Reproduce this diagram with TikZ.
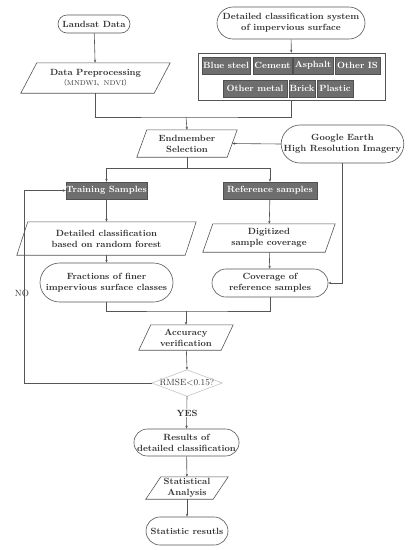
\documentclass[tikz,border=0pt]{standalone}
\usepackage{fontspec}
\newfontfamily\cjk{Noto Sans CJK SC}
\usetikzlibrary{shapes.geometric,shapes.misc,arrows.meta}
\definecolor{txt}{HTML}{333333}
\definecolor{ln}{HTML}{555555}
\definecolor{tile}{HTML}{6E6E6E}
\definecolor{tiled}{HTML}{505050}
\definecolor{dia}{HTML}{C4C4C4}
\tikzset{
  base/.style={font=\fontsize{9}{11}\selectfont\bfseries, text=txt, align=center, inner sep=0pt},
  pill/.style={base, draw=ln, line width=0.6pt, rounded rectangle},
  paranode/.style={base},
  box/.style={draw=ln, line width=0.6pt},
  tilebox/.style={base, fill=tile, draw=tiled, text=white, line width=0.4pt, minimum height=17pt},
  conn/.style={draw=ln, line width=0.6pt},
  arr/.style={conn, -{Stealth[length=3pt,width=2.4pt]}},
}
\newcommand\parabox[2]{\draw[box] ([xshift=#2/2]#1.north west) -- ([xshift=#2/2]#1.north east) -- ([xshift=-#2/2]#1.south east) -- ([xshift=-#2/2]#1.south west) -- cycle;}
\begin{document}
\begin{tikzpicture}[x=1pt,y=-1pt]
\useasboundingbox[fill=white] (0,0) rectangle (409,550);

% top row
\node[pill, minimum width=72pt, minimum height=18pt] (land) at (94,24) {Landsat Data};
\node[pill, minimum width=148pt, minimum height=32pt] (dcs) at (291,23) {Detailed classification system\\of impervious surface};

\node[paranode, minimum width=133pt, minimum height=30pt] (prep) at (95.5,78) {Data Preprocessing\\[-1pt]{\fontsize{7}{8}\selectfont\mdseries {\cjk （}MNDWI{\cjk 、}NDVI{\cjk ）}}};
\parabox{prep}{16}

\node[box, minimum width=187pt, minimum height=47pt, inner sep=0pt] (cbox) at (291.5,76.5) {};
\node[tilebox, minimum width=48pt] (t1) at (226,65.5) {Blue steel};
\node[tilebox, minimum width=39pt] (t2) at (272.5,65.5) {Cement};
\node[tilebox, minimum width=40pt] (t3) at (313,65.5) {Asphalt};
\node[tilebox, minimum width=45pt] (t4) at (357.5,65.5) {Other IS};
\node[tilebox, minimum width=64pt] (t5) at (255,88.5) {Other metal};
\node[tilebox, minimum width=26pt] (t6) at (302,88.5) {Brick};
\node[tilebox, minimum width=36pt] (t7) at (335,88.5) {Plastic};

\draw[arr] (land) -- (prep);
\draw[arr] (dcs) -- (cbox);

\coordinate (j1) at (186,117);
\draw[conn] (prep.south) |- (j1) -| (cbox.south);

% endmember
\node[paranode, minimum width=90pt, minimum height=27pt] (endm) at (187,143.5) {Endmember\\Selection};
\parabox{endm}{10}
\node[pill, minimum width=115pt, minimum height=38pt] (ge) at (342.5,144) {Google Earth\\High Resolution Imagery};
\draw[arr] (j1) -- (endm.north);
\draw[arr] (ge.west) -- (endm.east);

% samples
\node[tilebox, minimum width=81pt] (train) at (106.5,190.5) {Training Samples};
\node[tilebox, minimum width=94pt] (ref) at (270,190.5) {Reference samples};
\coordinate (j2) at (187,168);
\draw[conn] (endm.south) -- (j2);
\draw[arr] (j2) -| (train.north);
\draw[arr] (j2) -| (ref.north);

\node[paranode, minimum width=168pt, minimum height=33pt] (rf) at (106.5,238.5) {Detailed classification\\based on random forest};
\parabox{rf}{11}
\node[paranode, minimum width=122pt, minimum height=28pt] (dig) at (269,238) {Digitized\\sample coverage};
\parabox{dig}{10}
\draw[arr] (train) -- (rf);
\draw[arr] (ref) -- (dig);

\node[pill, minimum width=133pt, minimum height=39pt] (frac) at (106.5,282.5) {Fractions of finer\\impervious surface classes};
\node[pill, minimum width=116pt, minimum height=28pt] (cov) at (270,283) {Coverage of\\reference samples};
\draw[arr] (rf) -- (frac);
\draw[arr] (dig) -- (cov);
\draw[arr] (ge.south) |- (cov.east);

\coordinate (j3) at (186,311);
\draw[conn] (frac.south) |- (j3) -| (cov.south);

\node[paranode, minimum width=82pt, minimum height=25pt] (acc) at (186,337.5) {Accuracy\\verification};
\parabox{acc}{12}
\draw[arr] (j3) -- (acc.north);

\node[base, minimum width=70pt, minimum height=26pt, font=\fontsize{9}{11}\selectfont\mdseries] (rmse) at (187,383) {RMSE<0.15?};
\draw[draw=dia, line width=0.6pt] (rmse.north) -- (rmse.east) -- (rmse.south) -- (rmse.west) -- cycle;
\draw[arr] (acc) -- (rmse.north);

\coordinate (lp) at (24,383);
\draw[arr] (rmse.west) -- (lp) |- (train.west);
\node[base, font=\fontsize{9}{11}\selectfont\mdseries] (no) at (22,293) {NO};

\node[pill, minimum width=101pt, minimum height=27pt] (res) at (186.5,442.5) {Results of\\detailed classification};
\draw[arr] (rmse.south) -- (res.north);
\node[base, fill=white, inner sep=1pt] (yes) at (187,413) {YES};

\node[paranode, minimum width=67pt, minimum height=22pt] (stat) at (187,488) {Statistical\\Analysis};
\parabox{stat}{15}
\draw[arr] (res) -- (stat);

\node[pill, minimum width=82pt, minimum height=28pt] (sr) at (187,531) {Statistic resutls};
\draw[arr] (stat) -- (sr);
\end{tikzpicture}
\end{document}
